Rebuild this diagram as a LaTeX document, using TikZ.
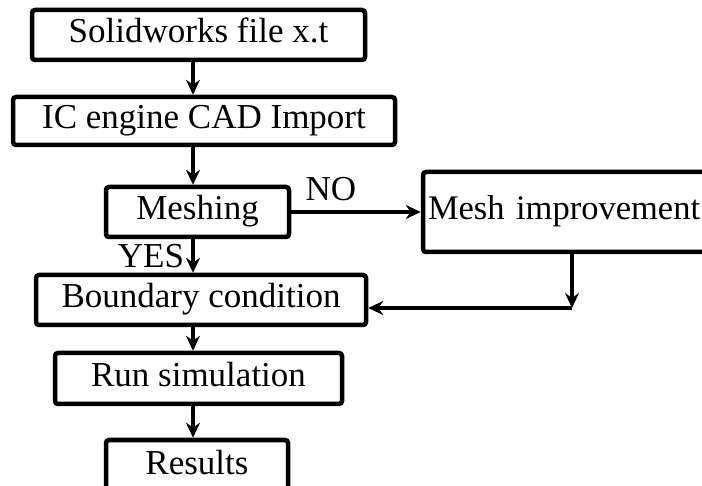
\documentclass[tikz,border=0pt]{standalone}
\usepackage{fontspec}
\setmainfont{Liberation Serif}
\usetikzlibrary{arrows.meta}
\tikzset{
	blk/.style={draw,line width=4.5pt,rounded corners=3pt,inner sep=0pt,text height=24pt,text depth=8pt,font=\fontsize{35}{40}\selectfont},
	lbl/.style={inner sep=0pt,font=\fontsize{35}{40}\selectfont},
	arr/.style={->,line width=3.5pt}
}
\begin{document}
\begin{tikzpicture}[x=1pt,y=-1pt,>={Stealth[length=15pt,width=14pt,inset=5pt]}]
	\useasboundingbox (0,0) rectangle (702,486);
	\clip (0,0) rectangle (702,486);
	\coordinate (ax) at (193,0);
	\coordinate (turn) at (572,308);
	% main column
	\node[blk,minimum width=333pt,minimum height=50pt] (solid) at (198.5,35) {Solidworks file x.t};
	\node[blk,minimum width=382pt,minimum height=48pt] (cad) at (204,121) {IC engine CAD Import};
	\node[blk,minimum width=183pt,minimum height=50pt] (mesh) at (197.5,212) {Meshing};
	\node[blk,minimum width=330pt,minimum height=50pt] (bound) at (201,300) {Boundary condition};
	\node[blk,minimum width=287pt,minimum height=51pt] (run) at (198.5,378.5) {Run simulation};
	\node[blk,minimum width=182pt,minimum height=52pt] (res) at (197,466) {Results};
	% side branch
	\node[blk,text width=320pt,align=left,inner xsep=5pt,minimum height=80pt,font=\fontsize{34.5}{40}\selectfont] (improve) at (588,212) {Mesh improvement};
	\node[lbl] (no) at (331,189) {NO};
	\node[lbl] (yes) at (151,256) {YES};
	% connectors
	\draw[arr] (solid.south -| ax) -- (cad.north -| ax);
	\draw[arr] (cad.south -| ax) -- (mesh.north -| ax);
	\draw[arr] (mesh.south -| ax) -- (bound.north -| ax);
	\draw[arr] (bound.south -| ax) -- (run.north -| ax);
	\draw[arr] (run.south -| ax) -- (res.north -| ax);
	\draw[arr] (mesh.east) -- (mesh.east -| improve.west);
	\draw[arr] (improve.south -| turn) -- (turn);
	\draw[arr] (turn) -- (turn -| bound.east);
\end{tikzpicture}
\end{document}
